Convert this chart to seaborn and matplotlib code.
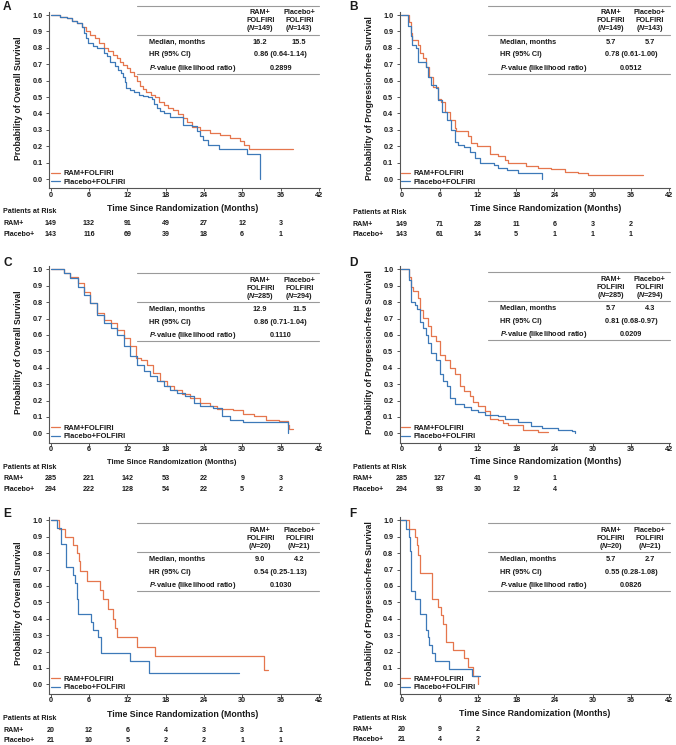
import numpy as np
import pandas as pd
import matplotlib
matplotlib.use("Agg")
import matplotlib.pyplot as plt
import seaborn as sns
from matplotlib.lines import Line2D

# ---------------- DATA ----------------
arms = ["RAM+FOLFIRI", "Placebo+FOLFIRI"]
x_ticks = [0, 6, 12, 18, 24, 30, 36, 42]
y_ticks = [0.0, 0.1, 0.2, 0.3, 0.4, 0.5, 0.6, 0.7, 0.8, 0.9, 1.0]
risk_rows = ["RAM+", "Placebo+"]
risk_times = [0, 6, 12, 18, 24, 30, 36]

# Panel A (OS)
A_ram_t = [0, 1.5, 2.5, 3.3, 4.1, 4.9, 5.5, 6.2, 7.0, 7.6, 8.3, 9.0, 9.8, 10.4, 10.9, 11.4, 11.9, 12.5, 13.0, 13.5,
           14.0, 14.5, 15.0, 15.7, 16.4, 17.0, 17.7, 18.4, 19.2, 20.0, 20.8, 21.4, 22.1, 23.4, 25.0, 26.5, 28.1,
           29.7, 30.3, 31.0, 38.0]
A_ram_s = [1.0, 0.99, 0.98, 0.965, 0.95, 0.925, 0.90, 0.88, 0.86, 0.83, 0.80, 0.78, 0.756, 0.735, 0.715, 0.695,
           0.675, 0.65, 0.63, 0.60, 0.567, 0.55, 0.53, 0.515, 0.50, 0.47, 0.45, 0.435, 0.42, 0.395, 0.37, 0.345,
           0.32, 0.30, 0.28, 0.27, 0.25, 0.23, 0.21, 0.183, 0.183]
A_pbo_t = [0, 1.5, 2.5, 3.3, 4.1, 4.9, 5.2, 5.5, 5.9, 6.7, 7.2, 8.3, 8.8, 9.3, 10.0, 10.6, 11.0, 11.4, 11.6, 11.8,
           12.5, 13.0, 13.8, 14.5, 15.2, 15.8, 16.2, 16.6, 17.2, 17.7, 18.7, 20.8, 22.1, 22.9, 23.4, 23.9, 24.7,
           26.3, 30.7, 32.8]
A_pbo_s = [1.0, 0.99, 0.98, 0.965, 0.95, 0.925, 0.89, 0.86, 0.83, 0.81, 0.80, 0.77, 0.75, 0.715, 0.69, 0.665,
           0.645, 0.625, 0.59, 0.553, 0.54, 0.53, 0.515, 0.506, 0.50, 0.49, 0.46, 0.43, 0.415, 0.40, 0.376, 0.33,
           0.323, 0.29, 0.265, 0.24, 0.21, 0.181, 0.15, 0.0]
A_risk_ram = [149, 132, 91, 49, 27, 12, 3]
A_risk_pbo = [143, 116, 69, 39, 18, 6, 1]
A_stats = dict(n=("149", "143"), median=("16.2", "15.5"), hr="0.86 (0.64-1.14)", p="0.2899")

# Panel B (PFS)
B_ram_t = [0, 1.2, 1.5, 1.7, 2.6, 2.9, 3.4, 3.9, 4.4, 5.0, 5.75, 6.3, 6.8, 7.6, 8.4, 8.6, 10.4, 11.0, 11.8, 13.9,
           15.2, 16.2, 16.7, 19.6, 21.4, 23.5, 25.6, 27.7, 29.3, 37.9]
B_ram_s = [1.0, 0.96, 0.89, 0.85, 0.817, 0.77, 0.735, 0.685, 0.625, 0.563, 0.49, 0.47, 0.41, 0.36, 0.31, 0.293,
           0.26, 0.217, 0.20, 0.152, 0.142, 0.116, 0.096, 0.08, 0.07, 0.06, 0.045, 0.035, 0.024, 0.024]
B_pbo_t = [0, 1.05, 1.5, 1.6, 2.35, 2.6, 3.8, 4.2, 4.7, 5.5, 5.75, 6.4, 7.1, 7.8, 8.4, 8.9, 9.9, 10.7, 11.5, 12.3,
           14.6, 15.2, 16.5, 18.3, 21.7, 22.0]
B_pbo_s = [1.0, 0.93, 0.87, 0.817, 0.797, 0.715, 0.685, 0.624, 0.573, 0.553, 0.48, 0.41, 0.36, 0.30, 0.228, 0.207,
           0.197, 0.167, 0.126, 0.096, 0.085, 0.065, 0.055, 0.035, 0.035, 0.0]
B_risk_ram = [149, 71, 28, 11, 6, 3, 2]
B_risk_pbo = [143, 61, 14, 5, 1, 1, 1]
B_stats = dict(n=("149", "143"), median=("5.7", "5.7"), hr="0.78 (0.61-1.00)", p="0.0512")

# Panel C (OS)
C_ram_t = [0, 2.1, 3.1, 4.2, 5.2, 6.2, 7.3, 8.3, 9.4, 10.4, 11.5, 12.5, 13.3, 14.1, 15.1, 16.1, 17.2, 18.2, 19.3,
           20.6, 21.9, 23.4, 25.0, 26.0, 28.6, 30.2, 31.8, 33.8, 35.7, 37.2, 37.4, 37.9]
C_ram_s = [1.0, 0.98, 0.955, 0.915, 0.864, 0.793, 0.732, 0.692, 0.671, 0.631, 0.58, 0.53, 0.458, 0.444, 0.418,
           0.367, 0.316, 0.286, 0.266, 0.241, 0.215, 0.185, 0.168, 0.148, 0.14, 0.12, 0.107, 0.083, 0.073, 0.053,
           0.028, 0.028]
C_pbo_t = [0, 2.1, 3.1, 4.2, 5.2, 6.2, 7.3, 8.3, 9.4, 10.4, 11.5, 12.5, 13.5, 14.6, 15.6, 16.7, 17.7, 18.7, 19.8,
           21.1, 22.4, 23.4, 25.5, 26.8, 28.1, 30.2, 37.2]
C_pbo_s = [1.0, 0.975, 0.945, 0.895, 0.844, 0.793, 0.722, 0.671, 0.641, 0.60, 0.53, 0.469, 0.418, 0.377, 0.347,
           0.316, 0.286, 0.266, 0.245, 0.225, 0.185, 0.164, 0.154, 0.103, 0.083, 0.067, 0.0]
C_risk_ram = [285, 221, 142, 53, 22, 9, 3]
C_risk_pbo = [294, 222, 128, 54, 22, 5, 2]
C_stats = dict(n=("285", "294"), median=("12.9", "11.5"), hr="0.86 (0.71-1.04)", p="0.1110")

# Panel D (PFS)
D_ram_t = [0, 1.2, 1.5, 1.8, 2.6, 2.9, 3.4, 4.2, 4.7, 5.5, 6.0, 6.8, 7.6, 8.4, 9.2, 9.9, 10.7, 11.2, 12.0, 13.1,
           13.9, 15.2, 16.0, 16.7, 19.1, 21.4, 23.0]
D_ram_s = [1.0, 0.955, 0.895, 0.865, 0.824, 0.754, 0.703, 0.652, 0.592, 0.562, 0.48, 0.45, 0.40, 0.36, 0.289,
           0.259, 0.228, 0.188, 0.168, 0.137, 0.087, 0.081, 0.063, 0.05, 0.022, 0.01, 0.006]
D_pbo_t = [0, 1.2, 1.5, 2.1, 2.5, 2.9, 3.4, 3.9, 4.2, 4.7, 5.5, 6.0, 6.5, 7.1, 7.6, 8.4, 9.9, 11.0, 12.0, 13.1,
           15.2, 16.2, 18.3, 20.4, 22.0, 24.6, 26.7, 27.2]
D_pbo_s = [1.0, 0.935, 0.80, 0.78, 0.76, 0.68, 0.642, 0.60, 0.55, 0.49, 0.45, 0.36, 0.32, 0.289, 0.218, 0.178,
           0.158, 0.143, 0.127, 0.111, 0.103, 0.087, 0.071, 0.046, 0.032, 0.022, 0.016, 0.0]
D_risk_ram = [285, 127, 41, 9, 1]
D_risk_pbo = [294, 93, 30, 12, 4]
D_stats = dict(n=("285", "294"), median=("5.7", "4.3"), hr="0.81 (0.68-0.97)", p="0.0209")

# Panel E (OS)
E_ram_t = [0, 1.35, 2.25, 3.45, 4.07, 4.38, 4.59, 5.75, 7.8, 8.14, 9.0, 9.8, 10.1, 10.43, 13.56, 16.3, 33.4, 34.1]
E_ram_s = [1.0, 0.95, 0.90, 0.85, 0.80, 0.75, 0.69, 0.63, 0.575, 0.52, 0.46, 0.40, 0.345, 0.287, 0.23, 0.173,
           0.086, 0.086]
E_pbo_t = [0, 1.04, 1.57, 2.35, 3.45, 3.8, 4.07, 4.3, 6.26, 6.68, 7.46, 7.88, 12.4, 15.4, 29.5]
E_pbo_s = [1.0, 0.952, 0.857, 0.714, 0.667, 0.62, 0.52, 0.43, 0.38, 0.333, 0.286, 0.19, 0.143, 0.071, 0.071]
E_risk_ram = [20, 12, 6, 4, 3, 3, 1]
E_risk_pbo = [21, 10, 5, 2, 2, 1, 1]
E_stats = dict(n=("20", "21"), median=("9.0", "4.2"), hr="0.54 (0.25-1.13)", p="0.1030")

# Panel F (PFS)
F_ram_t = [0, 1.15, 2.2, 2.5, 2.65, 2.87, 4.8, 5.75, 6.26, 6.5, 7.0, 8.1, 9.9, 10.5, 11.2, 12.1]
F_ram_s = [1.0, 0.95, 0.90, 0.85, 0.79, 0.68, 0.52, 0.47, 0.42, 0.37, 0.26, 0.21, 0.16, 0.105, 0.05, 0.0]
F_pbo_t = [0, 0.8, 1.15, 1.3, 1.46, 2.2, 2.9, 3.8, 4.2, 4.4, 4.8, 5.3, 7.4, 11.1, 12.3]
F_pbo_s = [1.0, 0.95, 0.90, 0.81, 0.57, 0.52, 0.43, 0.33, 0.29, 0.24, 0.19, 0.14, 0.095, 0.048, 0.048]
F_risk_ram = [20, 9, 2]
F_risk_pbo = [21, 4, 2]
F_stats = dict(n=("20", "21"), median=("5.7", "2.7"), hr="0.55 (0.28-1.08)", p="0.0826")

OS_LABEL = "Probability of Overall Survival"
PFS_LABEL = "Probability of Progression-free Survival"
XLABEL = "Time Since Randomization (Months)"

# ---------------- STYLE ----------------
sns.set_theme(style="ticks")
plt.rcParams["font.family"] = ["Liberation Sans", "DejaVu Sans"]
plt.rcParams["font.weight"] = "bold"
plt.rcParams["mathtext.fontset"] = "custom"
plt.rcParams["mathtext.it"] = "Liberation Sans:italic:bold"
plt.rcParams["mathtext.rm"] = "Liberation Sans:bold"
plt.rcParams["mathtext.bf"] = "Liberation Sans:bold"

ORANGE = "#E5764D"
BLUE = "#3D79B8"
SPINE = "#555555"
TXT = "#1a1a1a"
RULE = "#9a9a9a"
palette = {arms[0]: ORANGE, arms[1]: BLUE}

W, H = 676, 745
fig = plt.figure(figsize=(W / 100, H / 100), dpi=100)


def fx(x):
    return x / W


def fy(y):
    return 1 - y / H


def ftext(x, y, s, size, ha="left", va="center", **kw):
    fig.text(fx(x), fy(y), s, fontsize=size, ha=ha, va=va, color=TXT, fontweight="bold", **kw)


def hrule(x1, x2, y):
    fig.add_artist(Line2D([fx(x1), fx(x2)], [fy(y), fy(y)], transform=fig.transFigure, color=RULE, lw=0.8))


LEFT = (50.7, 318.8)
RIGHT = (401.3, 669.2)

panels = [
    dict(key="A", col=LEFT, y1=15, ttop=6, xlab=(182.5, 208.3, 6.3), risk=(211.5, 223.8, 234.8),
         ram=(A_ram_t, A_ram_s), pbo=(A_pbo_t, A_pbo_s), rr=(A_risk_ram, A_risk_pbo), st=A_stats, yl=OS_LABEL),
    dict(key="B", col=RIGHT, y1=15, ttop=6, xlab=(545.8, 208.3, 6.3), risk=(212, 224.3, 235),
         ram=(B_ram_t, B_ram_s), pbo=(B_pbo_t, B_pbo_s), rr=(B_risk_ram, B_risk_pbo), st=B_stats, yl=PFS_LABEL),
    dict(key="C", col=LEFT, y1=269.3, ttop=273.3, xlab=(172, 462.7, 5.4), risk=(467.7, 479, 489.7),
         ram=(C_ram_t, C_ram_s), pbo=(C_pbo_t, C_pbo_s), rr=(C_risk_ram, C_risk_pbo), st=C_stats, yl=OS_LABEL),
    dict(key="D", col=RIGHT, y1=269.3, ttop=272.3, xlab=(545.8, 461, 6.3), risk=(467.7, 479, 489.7),
         ram=(D_ram_t, D_ram_s), pbo=(D_pbo_t, D_pbo_s), rr=(D_risk_ram, D_risk_pbo), st=D_stats, yl=PFS_LABEL),
    dict(key="E", col=LEFT, y1=520.3, ttop=523.3, xlab=(182.5, 714.3, 6.3), risk=(718.7, 730, 740),
         ram=(E_ram_t, E_ram_s), pbo=(E_pbo_t, E_pbo_s), rr=(E_risk_ram, E_risk_pbo), st=E_stats, yl=OS_LABEL),
    dict(key="F", col=RIGHT, y1=520.3, ttop=523.3, xlab=(535, 714, 6.3), risk=(718.7, 729.3, 739.3),
         ram=(F_ram_t, F_ram_s), pbo=(F_pbo_t, F_pbo_s), rr=(F_risk_ram, F_risk_pbo), st=F_stats, yl=PFS_LABEL),
]

for p in panels:
    x0, x42 = p["col"]
    y1 = p["y1"]
    y0 = y1 + 164
    sx = (x42 - x0) / 42.0
    sy = 164.0
    left_px, right_px = x0 - 1.3, x42 + 1.0
    top_px, bot_px = y1 - 3.0, y0 + 9.3
    ax = fig.add_axes([fx(left_px), fy(bot_px), (right_px - left_px) / W, (bot_px - top_px) / H])
    ax.set_xlim(-1.3 / sx, 42 + 1.0 / sx)
    ax.set_ylim(-9.3 / sy, 1 + 3.0 / sy)

    df = pd.concat([
        pd.DataFrame({"t": p["ram"][0], "s": p["ram"][1], "arm": arms[0]}),
        pd.DataFrame({"t": p["pbo"][0], "s": p["pbo"][1], "arm": arms[1]}),
    ], ignore_index=True)
    sns.lineplot(data=df, x="t", y="s", hue="arm", hue_order=arms, palette=palette, estimator=None,
                 sort=False, drawstyle="steps-post", lw=0.9, ax=ax)

    handles, labels = ax.get_legend_handles_labels()
    ax.legend(handles, labels, loc="lower left", frameon=False, fontsize=5.4, handlelength=1.2,
              handletextpad=0.45, labelspacing=0.18, borderpad=0, borderaxespad=0,
              bbox_to_anchor=(fx(x0), fy(y0 + 7.0)), bbox_transform=fig.transFigure)
    for t in ax.get_legend().get_texts():
        t.set_color(TXT)
        t.set_fontweight("bold")

    ax.set_xticks(x_ticks)
    ax.set_xticklabels([str(v) for v in x_ticks])
    ax.set_yticks(y_ticks)
    ax.set_yticklabels([f"{v:.1f}" for v in y_ticks])
    ax.tick_params(axis="both", labelsize=5.2, colors=SPINE, labelcolor=TXT, length=2.0, width=0.7)
    ax.tick_params(axis="y", pad=2.8)
    ax.tick_params(axis="x", pad=0.6)
    for lab in ax.get_xticklabels() + ax.get_yticklabels():
        lab.set_fontweight("bold")
    for side in ["top", "right"]:
        ax.spines[side].set_visible(False)
    for side in ["left", "bottom"]:
        ax.spines[side].set_color(SPINE)
        ax.spines[side].set_linewidth(0.8)
    ax.set_xlabel("")
    ax.set_ylabel("")

    # axis labels
    ylx = 18.3 if x0 < 200 else 369.7
    fig.text(fx(ylx), fy((y1 + y0) / 2 + 1), p["yl"], rotation=90, ha="center", va="center",
             fontsize=6.2, fontweight="bold", color=TXT)
    xl_x, xl_y, xl_s = p["xlab"]
    ftext(xl_x, xl_y, XLABEL, xl_s, ha="center")

    # panel letter
    letx = 3 if x0 < 200 else 349.5
    ftext(letx, y1 - 7.5 if y1 < 100 else y1 - 6.3, p["key"], 8.6)

    # risk table
    rx = 3.3 if x0 < 200 else 353
    ry_head, ry1, ry2 = p["risk"]
    ftext(rx, ry_head, "Patients at Risk", 5.1)
    ftext(rx, ry1, risk_rows[0], 5.1)
    ftext(rx, ry2, risk_rows[1], 5.1)
    for i, (a, b) in enumerate(zip(p["rr"][0], p["rr"][1])):
        xx = x0 + risk_times[i] * sx
        ftext(xx, ry1, str(a), 5.1, ha="center")
        ftext(xx, ry2, str(b), 5.1, ha="center")

    # stats table
    tt = p["ttop"]
    t_l, t_r = x0 + 86.5, x0 + 268.5
    c1, c2, cm, lab_x = x0 + 209.5, x0 + 248.5, x0 + 230.0, x0 + 98.5
    hrule(t_l, t_r, tt)
    hrule(t_l, t_r, tt + 28.5)
    hrule(t_l, t_r, tt + 68)
    st = p["st"]
    ftext(c1, tt + 7, "RAM+", 5.2, ha="center")
    ftext(c1, tt + 15, "FOLFIRI", 5.2, ha="center")
    ftext(c1, tt + 23, r"($\mathit{N}$=" + st["n"][0] + ")", 5.2, ha="center")
    ftext(c2, tt + 7, "Placebo+", 5.2, ha="center")
    ftext(c2, tt + 15, "FOLFIRI", 5.2, ha="center")
    ftext(c2, tt + 23, r"($\mathit{N}$=" + st["n"][1] + ")", 5.2, ha="center")
    ftext(lab_x, tt + 36.2, "Median, months", 5.3)
    ftext(c1, tt + 36.2, st["median"][0], 5.3, ha="center")
    ftext(c2, tt + 36.2, st["median"][1], 5.3, ha="center")
    ftext(lab_x, tt + 48.8, "HR (95% CI)", 5.3)
    ftext(cm, tt + 48.8, st["hr"], 5.3, ha="center")
    ftext(lab_x, tt + 62, r"$\mathit{P}$-value (likelihood ratio)", 5.3)
    ftext(cm, tt + 62, st["p"], 5.3, ha="center")

fig.savefig("out.png", dpi=100)
